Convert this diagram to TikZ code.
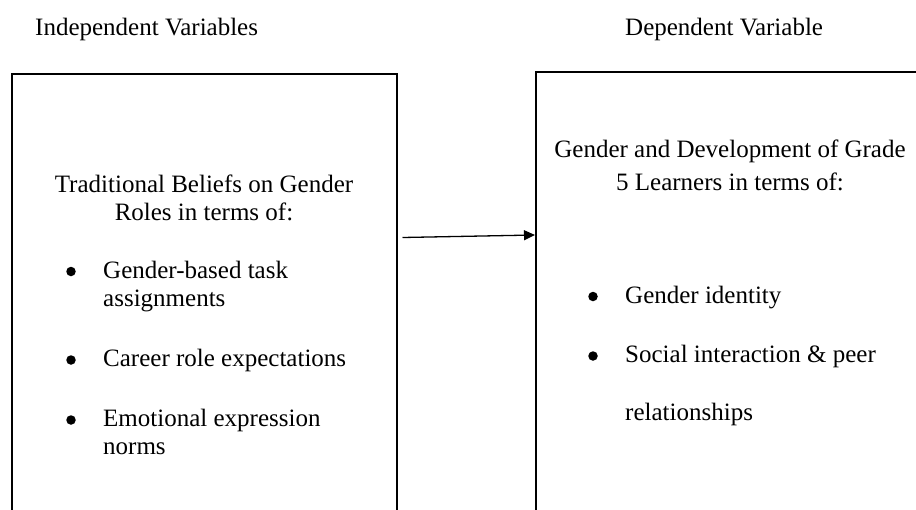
\documentclass[tikz,border=0pt]{standalone}
\usepackage{fontspec}
\setmainfont{Liberation Serif}
\usetikzlibrary{arrows.meta}

\begin{document}
\begin{tikzpicture}[x=1pt,y=1pt,
  box/.style={draw,line width=1.5pt,rectangle,anchor=north west,inner sep=0pt},
  txt/.style={anchor=base west,inner sep=0pt,font=\fontsize{25}{29}\selectfont},
  ctxt/.style={txt,anchor=base},
  dot/.style={circle,fill,inner sep=0pt,minimum size=9.5pt},
  arr/.style={line width=1.3pt,-{Triangle[length=11pt,width=10pt]}}]
  \useasboundingbox (0,0) rectangle (916,-509);
  \clip (0,0) rectangle (916,-509);

  % headings
  \node[txt] (ivhead) at (35,-35) {Independent Variables};
  \node[txt] (dvhead) at (625,-35) {Dependent Variable};

  % the two boxes, cut off by the page
  \node[box,minimum width=385pt,minimum height=480pt] (indep) at (11,-73) {};
  \node[box,minimum width=420pt,minimum height=480pt] (dep) at (535,-71) {};

  % independent variables
  \node[ctxt] (ivt1) at (204,-192) {Traditional Beliefs on Gender};
  \node[ctxt] (ivt2) at (204,-220) {Roles in terms of:};
  \foreach \y [count=\i] in {278,366.5,426.5}
    \node[dot] (ivdot\i) at (71,-\y+6.5) {};
  \foreach \t/\y [count=\i] in {Gender-based task/278,assignments/306.5,
      Career role expectations/366.5,Emotional expression/426.5,norms/454}
    \node[txt] (ivi\i) at (103,-\y) {\t};

  % dependent variable
  \node[ctxt] (dvt1) at (730,-157) {Gender and Development of Grade};
  \node[ctxt] (dvt2) at (730,-190) {5 Learners in terms of:};
  \foreach \y [count=\i] in {303,362.5}
    \node[dot] (dvdot\i) at (593,-\y+6.5) {};
  \foreach \t/\y [count=\i] in {Gender identity/303,
      Social interaction \& peer/362.5,relationships/420}
    \node[txt] (dvi\i) at (625,-\y) {\t};

  \draw[arr] ([shift={(5,-164.5)}]indep.north east) -- ([shift={(0,-164)}]dep.north west);
\end{tikzpicture}
\end{document}
